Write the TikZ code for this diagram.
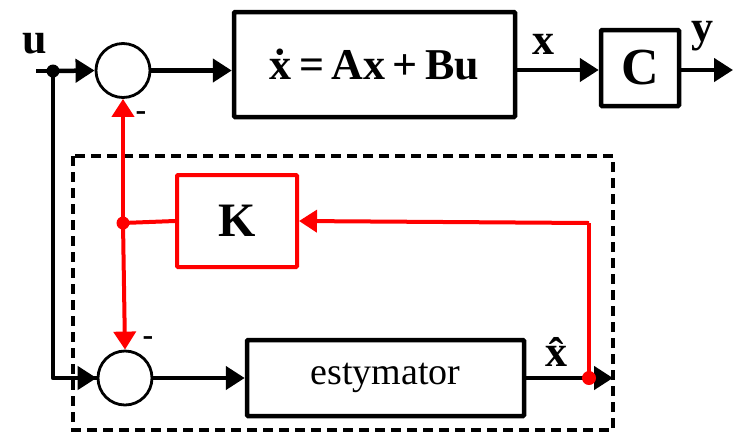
\documentclass[tikz,border=0pt]{standalone}
\usepackage{fontspec}
\setmainfont{Liberation Serif}
\usetikzlibrary{arrows.meta}
\begin{document}
\begin{tikzpicture}[x=1pt,y=-1pt,
  blk/.style={draw,line width=4.5pt,inner sep=0pt,rounded corners=1pt},
  sumc/.style={draw,circle,line width=2.8pt,minimum size=54pt,inner sep=0pt},
  sig/.style={line width=4.5pt,-{Triangle[length=19pt,width=23pt]}},
  rsig/.style={red,line width=4pt,-{Triangle[length=18pt,width=22pt]}},
  lbl/.style={font=\fontsize{44}{44}\selectfont\bfseries,inner sep=0pt},
  dotb/.style={circle,fill,inner sep=0pt,minimum size=13pt}]
\useasboundingbox (0,0) rectangle (733,432);
% dashed box
\draw[line width=3.5pt,dash pattern=on 10pt off 6pt] (73,156) rectangle (613,430);
% blocks
\node[blk,minimum width=281pt,minimum height=105pt] (sys) at (374.5,64.5)
  {\fontsize{44}{44}\selectfont\bfseries ẋ\,=\,Ax\,+\,Bu};
\node[blk,minimum width=78pt,minimum height=76pt] (C) at (640,68)
  {\fontsize{52}{52}\selectfont\bfseries C};
\node[blk,draw=red,line width=4pt,minimum width=120pt,minimum height=92pt] (K) at (237,221)
  {\fontsize{48}{48}\selectfont\bfseries K};
\node[blk,minimum width=277pt,minimum height=76pt] (est) at (385.5,378)
  {\fontsize{38}{38}\selectfont estymator};
% summing junctions
\node[sumc] (s1) at (123,70.5) {};
\node[sumc] (s2) at (125,378) {};
% input
\node[lbl] (ul) at (35,44) {u};
\coordinate (uin) at (36,71);
\node[dotb] (ud) at (53,71) {};
\coordinate (ucorner) at (53,378);
\draw[line width=4.5pt] (uin) -- (ud.center);
\draw[sig] (ud.center) -- (s1.west);
\draw[line width=4.5pt,line join=round] (ud.center) -- (ucorner) -- (s2.west);
\draw[sig] (ucorner) -- (s2.west);
% forward path
\draw[sig] (s1.east) -- (s1.east -| sys.west);
\coordinate (xo) at (sys.east |- 0,70);
\draw[sig] (xo) -- (xo -| C.west);
\node[lbl] (xl) at (543,44) {x};
\coordinate (yout) at (733,70);
\draw[sig] (yout -| C.east) -- (yout);
\node[lbl] (yl) at (702,36) {y};
% estimator path
\draw[sig] (s2.east) -- (est.west);
\coordinate (xhout) at (613,378);
\draw[sig] (est.east) -- (xhout);
\node[lbl] (xhl) at (556,352) {\^{x}};
% red feedback
\node[dotb,red,minimum size=14pt] (rd) at (589,378) {};
\coordinate (rcorner) at (589,223);
\draw[red,line width=4pt] (rd.center) -- (rcorner);
\draw[rsig] (rcorner) -- (K.east);
\node[dotb,red] (kd) at (123,223) {};
\draw[red,line width=4pt] (kd.center) -- (K.west);
\draw[rsig] (kd.center) -- (s1.south);
\draw[rsig] (kd.center) -- (s2.north);
% minus signs
\node[lbl,font=\fontsize{32}{32}\selectfont\bfseries] (m1) at (141,116) {-};
\node[lbl,font=\fontsize{32}{32}\selectfont\bfseries] (m2) at (148,341) {-};
\end{tikzpicture}
\end{document}
